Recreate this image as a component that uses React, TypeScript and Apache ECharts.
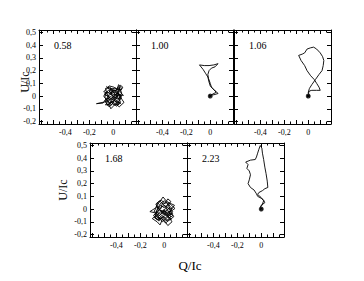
import React, { useEffect, useRef } from "react";
import * as echarts from "echarts";

// Panel labels (current values)
const panelLabels = ["0.58", "1.00", "1.06", "1.68", "2.23"];

// Axis ticks / labels
const xMajorTicks = [-0.6, -0.5, -0.4, -0.3, -0.2, -0.1, 0, 0.1];
const xMinorTicks = [-0.55, -0.45, -0.35, -0.25, -0.15, -0.05, 0.05, 0.15];
const xLabelValues = [-0.4, -0.2, 0];
const yTicks = [-0.2, -0.1, 0, 0.1, 0.2, 0.3, 0.4, 0.5];
const xRange = [-0.62, 0.19];
const yRange = [-0.22, 0.52];

// Traces [Q/Ic, U/Ic]
const trace058: [number, number][] = [
  [0.0, 0.0], [0.035, 0.025], [0.055, -0.015], [0.02, -0.045], [0.065, -0.055], [0.03, -0.07], [-0.015, -0.04],
  [-0.045, -0.075], [-0.07, -0.035], [-0.03, -0.01], [-0.075, 0.015], [-0.04, 0.045], [-0.01, 0.015], [-0.025, 0.065],
  [0.015, 0.04], [0.045, 0.075], [0.06, 0.03], [0.085, 0.005], [0.04, 0.01], [0.01, -0.02], [-0.02, -0.03],
  [-0.055, -0.015], [-0.085, -0.055], [-0.14, -0.06], [-0.065, -0.045], [-0.035, 0.005], [-0.005, 0.035], [0.025, 0.005],
  [0.05, 0.045], [0.07, 0.06], [0.045, 0.09], [0.03, 0.05], [0.005, 0.07], [-0.035, 0.08], [-0.06, 0.05],
  [-0.08, 0.035], [-0.05, 0.02], [-0.025, -0.02], [0.015, -0.01], [0.05, 0.015], [0.075, -0.03], [0.09, -0.05],
  [0.05, -0.085], [0.02, -0.06], [-0.005, -0.085], [-0.02, -0.1], [-0.04, -0.06], [-0.01, -0.05], [0.025, -0.025],
  [0.045, 0.02], [0.015, 0.03], [-0.015, 0.05], [-0.045, 0.06], [-0.055, 0.075], [-0.02, 0.045], [0.01, 0.025],
  [0.035, 0.06], [0.065, 0.045], [0.08, 0.07], [0.06, 0.085], [0.04, 0.04], [0.015, 0.005], [-0.01, -0.015],
  [-0.04, -0.035], [-0.065, -0.07], [-0.03, -0.065], [-0.005, -0.025], [0.03, -0.05], [0.055, -0.035], [0.07, 0.005],
  [0.035, 0.02], [0.005, -0.005], [-0.03, 0.025], [-0.06, 0.03], [-0.07, -0.01], [-0.045, -0.045], [-0.015, -0.07],
  [0.01, -0.035], [0.04, -0.065], [0.06, -0.045], [0.025, 0.01], [-0.005, 0.015], [-0.035, 0.04], [-0.015, 0.055],
  [0.02, 0.065], [0.05, 0.035], [0.03, -0.005], [0.0, -0.04], [-0.025, -0.055], [-0.055, -0.03], [-0.08, 0.0],
  [-0.05, 0.035], [-0.02, 0.01], [0.005, 0.05], [0.04, 0.03], [0.06, -0.01], [0.045, -0.05], [0.01, -0.07],
  [-0.02, -0.045], [-0.045, -0.01], [-0.065, 0.06], [-0.03, 0.07], [0.0, 0.04], [0.025, 0.045], [0.055, 0.06],
  [0.07, 0.025], [0.05, -0.02], [0.02, -0.015], [-0.01, 0.005], [-0.04, -0.02], [-0.06, -0.05], [-0.035, -0.085],
  [-0.005, -0.06], [0.03, -0.08], [0.05, -0.06], [0.02, -0.03], [-0.01, -0.01], [0.0, 0.0],
];

const trace100: [number, number][] = [
  [0.0, 0.0], [-0.01, 0.01], [0.01, 0.0], [-0.01, -0.01], [0.01, 0.01], [0.03, 0.01], [0.065, 0.02],
  [0.05, 0.035], [0.035, 0.045], [0.02, 0.06], [0.0, 0.08], [-0.01, 0.11], [-0.02, 0.15], [-0.04, 0.18],
  [-0.06, 0.21], [-0.09, 0.245], [-0.05, 0.24], [-0.01, 0.24], [0.03, 0.245], [0.065, 0.255], [0.04, 0.23],
  [0.01, 0.22], [-0.01, 0.2], [-0.02, 0.17], [-0.015, 0.14], [0.0, 0.1], [0.01, 0.07], [0.03, 0.05],
  [0.05, 0.03], [0.02, 0.015], [0.0, 0.005],
];

const trace106: [number, number][] = [
  [0.0, 0.0], [-0.01, 0.01], [0.01, -0.01], [0.0, 0.01], [-0.01, -0.01], [0.01, 0.0], [0.0, 0.03],
  [0.01, 0.06], [0.03, 0.09], [0.06, 0.13], [0.09, 0.17], [0.115, 0.2], [0.125, 0.24], [0.13, 0.28],
  [0.12, 0.31], [0.1, 0.34], [0.07, 0.37], [0.045, 0.385], [0.02, 0.38], [-0.01, 0.37], [-0.03, 0.34],
  [-0.05, 0.33], [-0.08, 0.32], [-0.06, 0.28], [-0.03, 0.24], [-0.01, 0.2], [0.02, 0.16], [0.05, 0.13],
  [0.07, 0.1], [0.09, 0.07], [0.1, 0.045], [0.07, 0.045], [0.03, 0.045], [0.01, 0.04], [0.0, 0.02],
];

const trace168: [number, number][] = [
  [-0.01, -0.015], [0.025, 0.015], [0.05, -0.01], [0.07, -0.035], [0.03, -0.055], [0.06, -0.08], [0.015, -0.09],
  [-0.02, -0.06], [-0.045, -0.095], [-0.075, -0.065], [-0.04, -0.035], [-0.085, -0.02], [-0.06, 0.025], [-0.03, 0.0],
  [-0.015, 0.045], [0.01, 0.015], [0.04, 0.05], [0.065, 0.025], [0.09, 0.005], [0.06, -0.015], [0.025, -0.025],
  [-0.005, -0.045], [-0.035, -0.02], [-0.065, -0.05], [-0.1, -0.075], [-0.06, -0.1], [-0.035, -0.125], [-0.015, -0.08],
  [0.01, -0.11], [0.045, -0.085], [0.08, -0.06], [0.055, -0.03], [0.015, -0.05], [-0.015, -0.03], [-0.045, -0.055],
  [-0.075, -0.03], [-0.12, -0.02], [-0.07, 0.01], [-0.055, 0.05], [-0.025, 0.07], [0.005, 0.045], [0.03, 0.08],
  [0.055, 0.06], [0.035, 0.03], [0.0, 0.01], [-0.03, 0.03], [-0.05, 0.005], [-0.08, -0.045], [-0.05, -0.075],
  [-0.02, -0.05], [0.01, -0.07], [0.04, -0.04], [0.06, -0.005], [0.085, 0.03], [0.05, 0.045], [0.02, 0.06],
  [-0.01, 0.095], [-0.04, 0.055], [-0.065, 0.02], [-0.03, -0.01], [0.005, -0.02], [0.035, -0.06], [0.065, -0.1],
  [0.03, -0.13], [0.0, -0.09], [-0.03, -0.07], [-0.06, -0.085], [-0.09, -0.05], [-0.055, -0.02], [-0.025, 0.015],
  [0.005, 0.03], [0.025, -0.005], [0.05, -0.035], [0.075, -0.05], [0.04, -0.07], [0.01, -0.04], [-0.02, -0.02],
  [-0.05, 0.0], [-0.07, 0.04], [-0.04, 0.065], [-0.01, 0.04], [0.02, 0.05], [0.045, 0.01], [0.07, -0.02],
  [0.045, -0.05], [0.015, -0.075], [-0.015, -0.1], [-0.045, -0.07], [-0.07, -0.04], [-0.04, -0.005], [-0.01, -0.03],
  [0.02, -0.015], [0.05, 0.02], [0.03, 0.045], [0.0, 0.065], [-0.035, 0.04], [-0.06, -0.005], [-0.08, -0.07],
  [-0.045, -0.085], [-0.01, -0.06], [0.025, -0.09], [0.055, -0.055], [0.03, -0.035], [-0.005, -0.005], [-0.03, -0.04],
  [-0.055, -0.065], [-0.025, -0.08], [0.005, -0.05], [0.04, -0.025], [0.065, 0.01], [0.035, 0.005], [0.0, -0.025],
  [-0.01, -0.015],
];

const trace223: [number, number][] = [
  [0.0, 0.0], [0.01, 0.01], [-0.01, 0.0], [0.0, -0.01], [0.01, 0.0], [-0.01, 0.01], [0.0, 0.03],
  [0.03, 0.05], [0.02, 0.07], [0.0, 0.085], [-0.03, 0.1], [-0.04, 0.12], [-0.06, 0.15], [-0.09, 0.17],
  [-0.11, 0.2], [-0.1, 0.23], [-0.09, 0.27], [-0.1, 0.3], [-0.12, 0.32], [-0.11, 0.35], [-0.13, 0.37],
  [-0.09, 0.385], [-0.05, 0.39], [-0.04, 0.41], [-0.03, 0.44], [-0.02, 0.47], [-0.008, 0.5], [0.005, 0.48],
  [0.01, 0.44], [0.02, 0.39], [0.03, 0.33], [0.04, 0.28], [0.05, 0.22], [0.055, 0.17], [0.03, 0.16],
  [0.01, 0.145], [-0.02, 0.13], [-0.03, 0.115], [0.0, 0.09], [0.02, 0.065], [0.01, 0.04], [0.0, 0.02],
];

const traces = [trace058, trace100, trace106, trace168, trace223];
// end-point dots (panels with a dot at the origin)
const dotPanels = [1, 2, 4];
const dotPoint: [number, number] = [0, 0];

const FONT = "'Liberation Serif', 'DejaVu Serif', serif";

const gridPos = [
  { left: 39, top: 30 },
  { left: 136, top: 30 },
  { left: 234, top: 30 },
  { left: 90, top: 143 },
  { left: 187, top: 143 },
];
const GW = 97;
const GH = 94;

const fmt = (v: number) => String(v).replace(".", ",");

export default function App() {
  const ref = useRef<HTMLDivElement>(null);
  useEffect(() => {
    if (!ref.current) return;
    const chart = echarts.init(ref.current, undefined, { renderer: "svg" });

    const grid: any[] = [];
    const xAxis: any[] = [];
    const yAxis: any[] = [];
    const series: any[] = [];
    const graphic: any[] = [];

    gridPos.forEach((g, i) => {
      grid.push({ left: g.left, top: g.top, width: GW, height: GH, containLabel: false });
      const showYLabels = i === 0 || i === 3;
      const mkX = (position: string, major: boolean, labels: boolean) => ({
        type: "value",
        gridIndex: i,
        position,
        min: xRange[0],
        max: xRange[1],
        axisLine: { show: major, onZero: false, lineStyle: { color: "#000", width: 1 } },
        axisTick: {
          show: true,
          inside: true,
          length: major ? 4 : 2.5,
          customValues: major ? xMajorTicks : xMinorTicks,
          lineStyle: { color: "#000", width: 1 },
        },
        axisLabel: {
          show: labels,
          customValues: xLabelValues,
          formatter: fmt,
          fontFamily: FONT,
          fontSize: 8,
          color: "#000",
          margin: 4,
        },
        splitLine: { show: false },
      });
      const bottomIdx = xAxis.length;
      xAxis.push(mkX("bottom", true, true));
      xAxis.push(mkX("bottom", false, false));
      xAxis.push(mkX("top", true, false));
      xAxis.push(mkX("top", false, false));
      const mkY = (position: string, labels: boolean) => ({
        type: "value",
        gridIndex: i,
        position,
        min: yRange[0],
        max: yRange[1],
        axisLine: { show: true, onZero: false, lineStyle: { color: "#000", width: 1 } },
        axisTick: {
          show: true,
          inside: true,
          length: 4,
          customValues: yTicks,
          lineStyle: { color: "#000", width: 1 },
        },
        axisLabel: {
          show: labels,
          customValues: yTicks,
          formatter: fmt,
          fontFamily: FONT,
          fontSize: 8,
          color: "#000",
          margin: 3,
        },
        splitLine: { show: false },
      });
      const leftIdx = yAxis.length;
      yAxis.push(mkY("left", showYLabels));
      yAxis.push(mkY("right", false));

      series.push({
        type: "line",
        xAxisIndex: bottomIdx,
        yAxisIndex: leftIdx,
        data: traces[i],
        showSymbol: false,
        symbol: "none",
        lineStyle: { color: "#000", width: 0.9 },
        silent: true,
      });
      if (dotPanels.includes(i)) {
        series.push({
          type: "scatter",
          xAxisIndex: bottomIdx,
          yAxisIndex: leftIdx,
          data: [dotPoint],
          symbolSize: 5,
          itemStyle: { color: "#000" },
          silent: true,
        });
      }
      graphic.push({
        type: "text",
        x: g.left + 15,
        y: g.top + 15,
        style: {
          text: panelLabels[i],
          font: `10px ${FONT}`,
          fill: "#000",
          align: "left",
          verticalAlign: "middle",
        },
      });
    });

    graphic.push({
      type: "text",
      x: 25,
      y: 82,
      rotation: Math.PI / 2,
      style: { text: "U/Ic", font: `12px ${FONT}`, fill: "#000", align: "center", verticalAlign: "middle" },
    });
    graphic.push({
      type: "text",
      x: 63,
      y: 190,
      rotation: Math.PI / 2,
      style: { text: "U/Ic", font: `12px ${FONT}`, fill: "#000", align: "center", verticalAlign: "middle" },
    });
    graphic.push({
      type: "text",
      x: 190,
      y: 265,
      style: { text: "Q/Ic", font: `13px ${FONT}`, fill: "#000", align: "center", verticalAlign: "middle" },
    });

    chart.setOption({
      animation: false,
      backgroundColor: "#fff",
      grid,
      xAxis,
      yAxis,
      series,
      graphic,
    });
    return () => chart.dispose();
  }, []);

  return (
    <div
      ref={ref}
      style={{ position: "fixed", left: 0, top: 0, width: 364, height: 281, background: "#fff" }}
    />
  );
}
